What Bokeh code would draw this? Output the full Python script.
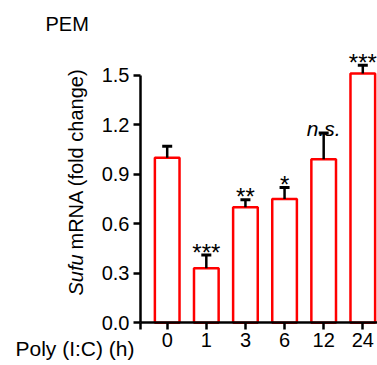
import math
from bokeh.plotting import figure
from bokeh.models import FixedTicker, Label, Range1d, NumeralTickFormatter
from bokeh.core.properties import value
from bokeh.embed import file_html
from bokeh.resources import INLINE

# ---- data ----
title = "PEM"
times = ["0", "1", "3", "6", "12", "24"]
means = [1.00, 0.33, 0.70, 0.75, 0.99, 1.51]
sems = [0.07, 0.08, 0.045, 0.07, 0.16, 0.05]
sig = ["", "***", "**", "*", "n.s.", "***"]
y_ticks = [0.0, 0.3, 0.6, 0.9, 1.2, 1.5]
x_title = "Poly (I:C) (h)"
y_title_italic = "Sufu"
y_title_rest = "mRNA (fold change)"

FONT = "Liberation Sans"

xs = list(range(len(times)))
tops = [m + s for m, s in zip(means, sems)]

W, H = 377, 365
# pixel geometry of the reference: category 0 at px 166.7, 39.12 px per category;
# value 0 at py 322.3, 165.1 px per unit
X0PX, XSTEP, Y0PX, YSTEP = 166.7, 39.12, 322.3, 165.1


def px_to_data(px, py):
    return (px - X0PX) / XSTEP, (Y0PX - py) / YSTEP


x_lo, y_hi = px_to_data(0, 0)
x_hi, y_lo = px_to_data(W, H)
axis_x0, _ = px_to_data(140, 0)   # where the y axis sits

p = figure(width=W, height=H, output_backend="svg", toolbar_location=None,
           x_range=Range1d(x_lo, x_hi), y_range=Range1d(y_lo, y_hi),
           min_border=0, min_border_left=0, min_border_right=0,
           min_border_top=0, min_border_bottom=0)
p.outline_line_color = None
p.grid.visible = False
p.background_fill_color = "white"
p.border_fill_color = "white"

# y axis
ya = p.yaxis[0]
ya.ticker = FixedTicker(ticks=y_ticks)
ya.formatter = NumeralTickFormatter(format="0.0")
ya.bounds = (0, 1.5)
ya.fixed_location = axis_x0
# x axis
xa = p.xaxis[0]
xa.ticker = FixedTicker(ticks=[axis_x0] + xs)
overrides = {axis_x0: ""}
for i, t in zip(xs, times):
    overrides[i] = t
xa.major_label_overrides = overrides
xa.bounds = (axis_x0, x_hi + 1)
xa.fixed_location = 0

for ax in (xa, ya):
    ax.axis_line_width = 2.5
    ax.axis_line_color = "black"
    ax.major_tick_line_width = 2.5
    ax.major_tick_line_color = "black"
    ax.major_tick_out = 7
    ax.major_tick_in = 0
    ax.minor_tick_line_color = None
    ax.major_label_text_font = FONT
    ax.major_label_text_font_size = "20px"
    ax.major_label_text_color = "black"
ya.major_label_standoff = 4
xa.major_label_standoff = 3

# bars
p.vbar(x=xs, top=means, bottom=0, width=0.63, fill_color="white",
       line_color="#ff0000", line_width=2.5)

# error bars (upper only)
p.segment(x0=xs, y0=means, x1=xs, y1=tops, line_color="black", line_width=2.5)
p.scatter(x=xs, y=tops, marker="dash", size=10, line_width=3, line_color="black")

# significance marks
st_x = [x for x, s in zip(xs, sig) if s and s != "n.s."]
st_y = [t for t, s in zip(tops, sig) if s and s != "n.s."]
st_t = [s for s in sig if s and s != "n.s."]
p.text(x=st_x, y=st_y, text=st_t, text_align="center", text_baseline="alphabetic",
       y_offset=-3, text_font=value(FONT), text_font_size="24px", text_color="black")
ns_x = [x for x, s in zip(xs, sig) if s == "n.s."]
ns_y = [t for t, s in zip(tops, sig) if s == "n.s."]
ns_t = [s for s in sig if s == "n.s."]
p.text(x=ns_x, y=ns_y, text=ns_t, text_align="center", text_baseline="alphabetic",
       y_offset=-4, text_font=value(FONT), text_font_size="21px",
       text_font_style="italic", text_color="black")


def add_label(text, px, py, angle=0.0, style="normal", size="20px"):
    x, y = px_to_data(px, py)
    p.add_layout(Label(x=x, y=y, text=text, angle=angle, text_font=FONT,
                       text_font_size=size, text_font_style=style,
                       text_align="left", text_baseline="alphabetic",
                       text_color="black"))


add_label(title, 45, 23.3)
add_label(x_title, 15, 348.3, size="21px")
add_label(y_title_italic, 75, 295, angle=math.pi / 2, style="italic")
add_label(y_title_rest, 75, 249, angle=math.pi / 2)

open("out.html", "w").write(file_html(p, INLINE))
